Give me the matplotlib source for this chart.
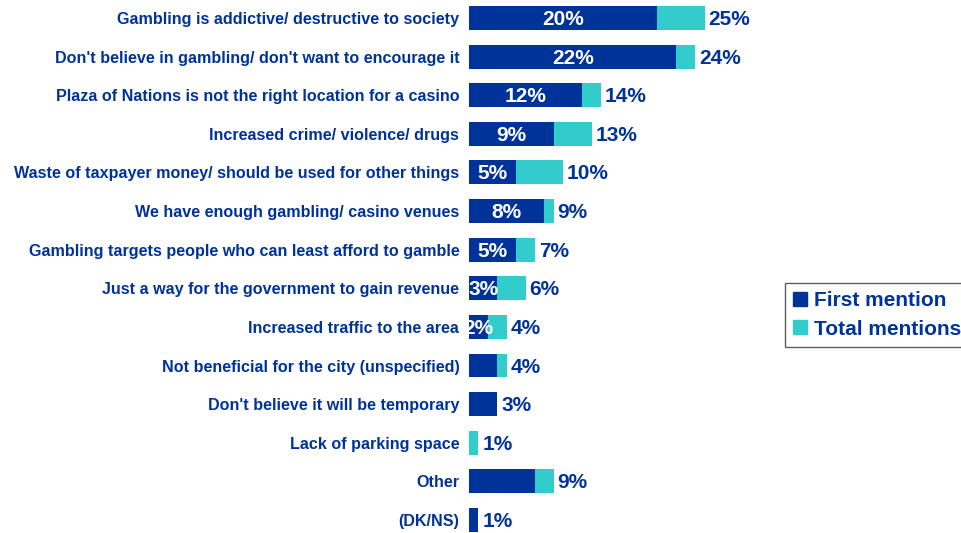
import matplotlib.pyplot as plt
from matplotlib.patches import Patch

plt.rcParams['font.family'] = ['Liberation Sans', 'DejaVu Sans']

# Data
categories = [
    "Gambling is addictive/ destructive to society",
    "Don't believe in gambling/ don't want to encourage it",
    "Plaza of Nations is not the right location for a casino",
    "Increased crime/ violence/ drugs",
    "Waste of taxpayer money/ should be used for other things",
    "We have enough gambling/ casino venues",
    "Gambling targets people who can least afford to gamble",
    "Just a way for the government to gain revenue",
    "Increased traffic to the area",
    "Not beneficial for the city (unspecified)",
    "Don't believe it will be temporary",
    "Lack of parking space",
    "Other",
    "(DK/NS)",
]
first_mention = [20, 22, 12, 9, 5, 8, 5, 3, 2, 3, 3, 0, 7, 1]
total_mentions = [25, 24, 14, 13, 10, 9, 7, 6, 4, 4, 3, 1, 9, 1]
# which first-mention labels are printed in the original
show_first = [True, True, True, True, True, True, True, True, True,
              False, False, False, False, False]

dark = '#003399'
cyan = '#33CCCC'

fig = plt.figure(figsize=(9.61, 5.33), dpi=100)
ax = fig.add_axes([469 / 961, 0, 311 / 961, 1])

y = list(range(len(categories)))
ax.barh(y, total_mentions, height=0.62, color=cyan, zorder=2)
ax.barh(y, first_mention, height=0.62, color=dark, zorder=3)

for i in y:
    if show_first[i]:
        ax.text(first_mention[i] / 2, i + 0.04, f"{first_mention[i]}%", color='white',
                fontsize=15, fontweight='bold', ha='center', va='center', zorder=4)
    ax.text(total_mentions[i] + 0.4, i + 0.04, f"{total_mentions[i]}%", color=dark,
            fontsize=15, fontweight='bold', ha='left', va='center', zorder=4)

ax.set_xlim(0, 33)
ax.set_ylim(13.337, -0.466)
ax.set_yticks(y)
ax.set_yticklabels(categories, fontsize=11.6, fontweight='bold', color=dark)
ax.tick_params(axis='y', length=0, pad=7)
ax.set_xticks([])
for s in ['top', 'right', 'bottom', 'left']:
    ax.spines[s].set_visible(False)
ax.patch.set_alpha(0)

handles = [Patch(color=dark, label='First mention'),
           Patch(color=cyan, label='Total mentions')]
leg = fig.legend(handles=handles, loc='upper left',
                 bbox_to_anchor=(785 / 961, 1 - 283 / 533),
                 prop={'size': 15, 'weight': 'bold'},
                 handlelength=0.65, handleheight=0.65, handletextpad=0.35,
                 labelspacing=0.45, borderpad=0.4, fancybox=False,
                 borderaxespad=0)
for t in leg.get_texts():
    t.set_color(dark)
leg.get_frame().set_edgecolor('#333333')
leg.get_frame().set_linewidth(1)

fig.savefig('out.png', dpi=100)
